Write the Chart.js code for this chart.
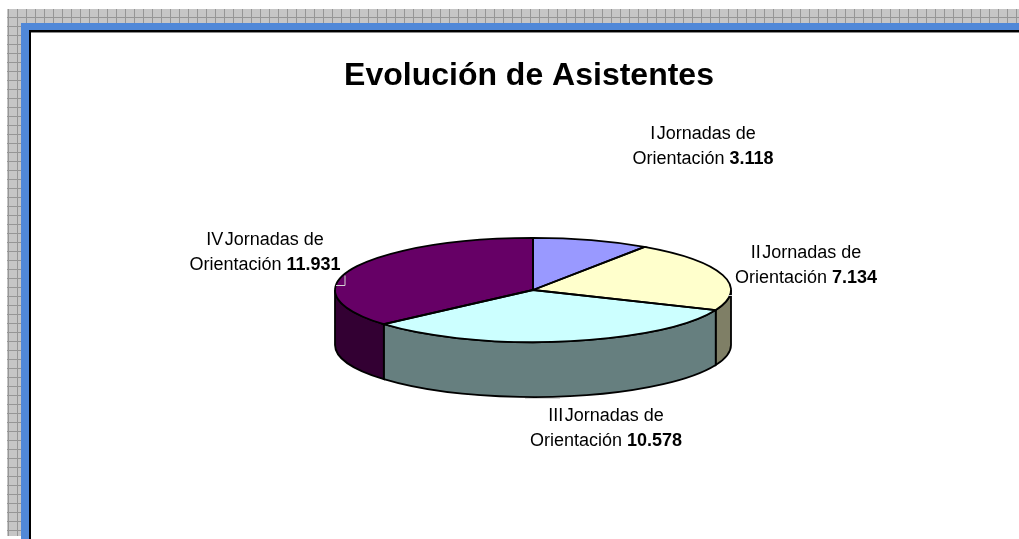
<!DOCTYPE html>
<html lang="es">
<head>
<meta charset="utf-8">
<title>Evolución de Asistentes</title>
<script src="https://cdn.jsdelivr.net/npm/chart.js@4"></script>
<style>
  html, body { margin: 0; height: 100%; background: #fff; overflow: hidden; }
  /* slide background: grey tile grid, blue frame, black edge */
  #tiles {
    position: absolute; left: 7px; top: 9px; right: 0; height: 527px;
    background-color: #c6c6c6;
    background-image:
      linear-gradient(to right, #969696 1px, transparent 1px),
      linear-gradient(to bottom, #969696 1px, transparent 1px);
    background-size: 9px 9px;
    background-position: 1px 8px;
  }
  #frame {
    position: absolute; left: 21px; top: 23px; right: -20px; bottom: -20px;
    background: #5088d8;
  }
  #panel {
    position: absolute; left: 29px; top: 30px; right: -20px; bottom: -20px;
    background: #fff; border-left: 2px solid #000; border-top: 2px solid #000;
    box-shadow: inset 0 1px 0 #8a8a8a;
  }
  #chart { position: absolute; left: 0; top: 0; }
</style>
</head>
<body>
<div id="tiles"></div>
<div id="frame"></div>
<div id="panel"></div>
<canvas id="chart" width="1019" height="539"></canvas>
<script>
const editions = ['I Jornadas de Orientación', 'II Jornadas de Orientación', 'III Jornadas de Orientación', 'IV Jornadas de Orientación'];
const attendees = [3118, 7134, 10578, 11931];
const valueLabels = ['3.118', '7.134', '10.578', '11.931'];
const topColors = ['#9999ff', '#ffffcc', '#ccffff', '#660066'];
const sideColors = ['#4c4c7f', '#7f7f66', '#667f7f', '#330033'];

const squash = 0.263; // ellipse ry / rx
const depth = 55;
const centerShiftX = 4; // title and pie are not on the same centre

// label text centres, relative to the pie centre
const labelOffsets = [[170, -143.5], [273, -24.5], [73, 139], [-268, -37.5]];
// faint leader stubs left over from the label positions
const leaderStubs = [
  [[-197, -5], [-188, -5], [-188, -15]],
  [[-8, 108], [27, 108]],
  [[195, 5], [199, 5]],
];

function applyTilt(ctx, el) {
  ctx.translate(el.x + centerShiftX, el.y);
  ctx.scale(1, squash);
  ctx.translate(-el.x, -el.y);
}

const pie3d = {
  id: 'pie3d',
  // extruded wall, only the part of each slice facing us
  beforeDatasetsDraw(chart) {
    const ctx = chart.ctx;
    const arcs = chart.getDatasetMeta(0).data;
    arcs.forEach((el, i) => {
      const a0 = Math.max(el.startAngle, 0);
      const a1 = Math.min(el.endAngle, Math.PI);
      if (a1 <= a0) return;
      const cx = el.x + centerShiftX;
      const rx = el.outerRadius;
      const ry = rx * squash;
      ctx.beginPath();
      ctx.ellipse(cx, el.y, rx, ry, 0, a0, a1);
      ctx.ellipse(cx, el.y + depth, rx, ry, 0, a1, a0, true);
      ctx.closePath();
      ctx.fillStyle = sideColors[i];
      ctx.fill();
      ctx.strokeStyle = '#000';
      ctx.lineWidth = 1.8;
      ctx.stroke();
    });
    ctx.save();
    applyTilt(ctx, arcs[0]);
  },
  afterDatasetsDraw(chart) {
    const ctx = chart.ctx;
    ctx.restore();
    // outlines after the restore so the pen stays round on the squashed path
    chart.getDatasetMeta(0).data.forEach((el) => {
      ctx.beginPath();
      ctx.ellipse(el.x + centerShiftX, el.y, el.outerRadius, el.outerRadius * squash, 0, el.startAngle, el.endAngle);
      ctx.lineTo(el.x + centerShiftX, el.y);
      ctx.closePath();
      ctx.strokeStyle = '#000';
      ctx.lineWidth = 1.8;
      ctx.stroke();
    });
    drawLeaders(chart);
    drawLabels(chart);
  },
};

function drawLeaders(chart) {
  const ctx = chart.ctx;
  const el = chart.getDatasetMeta(0).data[0];
  const ox = el.x + centerShiftX;
  ctx.save();
  ctx.strokeStyle = '#d4d4d4';
  ctx.lineWidth = 1;
  leaderStubs.forEach((stub) => {
    ctx.beginPath();
    stub.forEach(([dx, dy], k) => {
      if (k === 0) ctx.moveTo(ox + dx, el.y + dy + 0.5);
      else ctx.lineTo(ox + dx, el.y + dy + 0.5);
    });
    ctx.stroke();
  });
  ctx.restore();
}

function drawLabels(chart) {
  const ctx = chart.ctx;
  const el = chart.getDatasetMeta(0).data[0];
  const regular = '18px "Liberation Sans"';
  const bold = 'bold 18px "Liberation Sans"';
  ctx.save();
  ctx.fillStyle = '#000';
  ctx.textBaseline = 'middle';
  ctx.textAlign = 'left';
  editions.forEach((name, i) => {
    const cx = el.x + centerShiftX + labelOffsets[i][0];
    const cy = el.y + labelOffsets[i][1];
    const words = name.split(' ');
    const first = words[0] + '\u200a' + words.slice(1, 3).join(' ');
    const second = words[3] + ' ';
    ctx.font = regular;
    const w1 = ctx.measureText(first).width;
    const w2 = ctx.measureText(second).width;
    ctx.fillText(first, cx - w1 / 2, cy - 12.5);
    ctx.font = bold;
    const w3 = ctx.measureText(valueLabels[i]).width;
    const left = cx - (w2 + w3) / 2;
    ctx.fillText(valueLabels[i], left + w2, cy + 12.5);
    ctx.font = regular;
    ctx.fillText(second, left, cy + 12.5);
  });
  ctx.restore();
}

new Chart(document.getElementById('chart'), {
  type: 'pie',
  data: {
    labels: editions,
    datasets: [{
      data: attendees,
      backgroundColor: topColors,
      borderWidth: 0,
      radius: 198,
      clip: false,
    }],
  },
  options: {
    responsive: false,
    animation: false,
    events: [],
    layout: { padding: { left: 39, right: 0, top: 57, bottom: 54.4 } },
    plugins: {
      legend: { display: false },
      tooltip: { enabled: false },
      title: {
        display: true,
        text: 'Evolución de Asistentes',
        color: '#000',
        font: { family: '"Liberation Sans"', size: 32, weight: 'bold', lineHeight: 1.2 },
        padding: 0,
      },
    },
  },
  plugins: [pie3d],
});
</script>
</body>
</html>
